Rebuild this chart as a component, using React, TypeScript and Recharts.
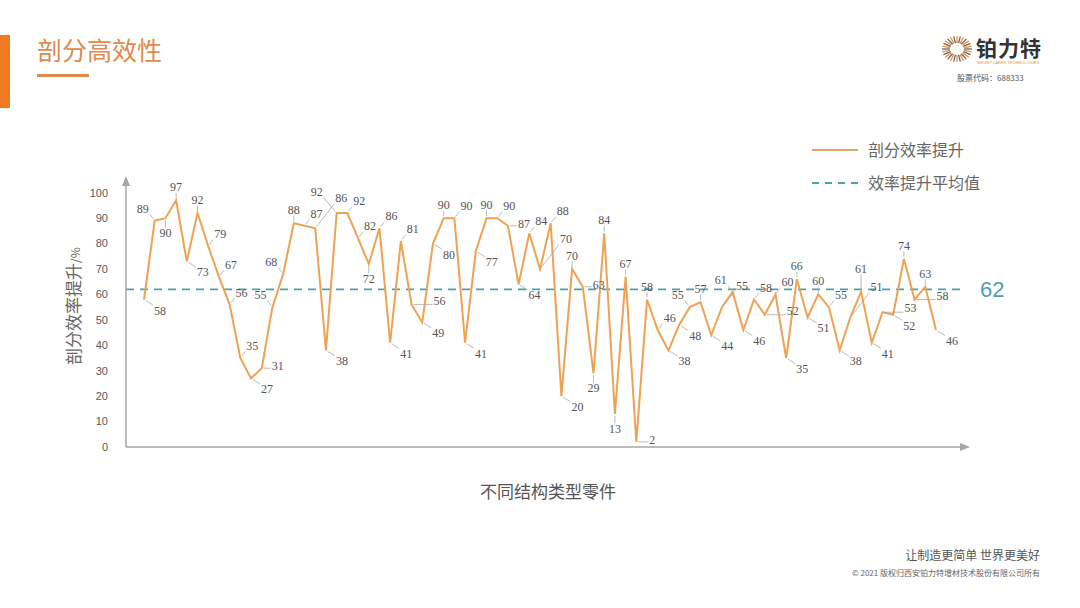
import { LineChart, Line, XAxis, YAxis, ReferenceLine, LabelList } from 'recharts'

// 剖分效率提升 — one value per part, read left to right
const effData = [
    58, 89, 90, 97, 73, 92, 79, 67, 56, 35, 27, 31, 55, 68, 88, 87, 86, 38, 92, 92,
    82, 72, 86, 41, 81, 56, 49, 80, 90, 90, 41, 77, 90, 90, 87, 64, 84, 70, 88, 20,
    70, 63, 29, 84, 13, 67, 2, 58, 46, 38, 48, 55, 57, 44, 55, 61, 46, 58, 52, 60,
    35, 66, 51, 60, 55, 38, 51, 61, 41, 53, 52, 74, 58, 63, 46,
]
const partIds = effData.map((_, i) => `part${i + 1}`)
const avgValue = 62
const yTicks = [0, 10, 20, 30, 40, 50, 60, 70, 80, 90, 100]
const yMax = 105

const seriesName = '剖分效率提升'
const avgName = '效率提升平均值'

const chartData = partIds.map((id, i) => ({ part: id, eff: effData[i] }))

const ORANGE = '#EEA254'
const TEAL = '#4E9FAE'
const CJK = '"Noto Sans CJK SC", "Noto Sans", sans-serif'

// plot frame (matches the LineChart margins / axis padding below)
const PLOT = { left: 126, right: 965, top: 180, bottom: 447, padL: 18, padR: 29 }

// --- label placement: try a few spots around each point, skip ones that hit the line or another label
type Box = { cx: number; cy: number; w: number; h: number }
const n = effData.length
const stepX = (PLOT.right - PLOT.left - PLOT.padL - PLOT.padR) / (n - 1)
const px = (i: number) => PLOT.left + PLOT.padL + i * stepX
const py = (v: number) => PLOT.bottom - (v / yMax) * (PLOT.bottom - PLOT.top)

const samples: number[][] = []
for (let i = 0; i < n - 1; i++) {
    for (let t = 0; t <= 24; t++) {
        const f = t / 24
        samples.push([px(i) + (px(i + 1) - px(i)) * f, py(effData[i]) + (py(effData[i + 1]) - py(effData[i])) * f])
    }
}

const SPOTS: Record<string, number[]> = {
    A: [0, -13], AR: [12, -12], AL: [-12, -12], R: [16, -2], L: [-16, -2],
    BR: [16, 11], B: [0, 15], BL: [-16, 11], AR2: [20, -21], AL2: [-20, -21],
    A2: [0, -23], BR2: [22, 20], BL2: [-22, 20], B2: [0, 25],
    R3: [28, -4], L3: [-28, -4], AR3: [26, -30], AL3: [-26, -30], BR3: [28, 24], BL3: [-28, 24], A3: [0, -34], B3: [0, 34],
}
const FAR = ['R3', 'L3', 'AR3', 'AL3', 'BR3', 'BL3', 'A3', 'B3']
const ORDER: Record<string, string[]> = {
    peak: ['A', 'AR', 'AL', 'A2', 'AR2', 'AL2', 'R', 'L', ...FAR],
    valley: ['BR', 'B', 'BL', 'BR2', 'B2', 'BL2', 'R', 'L', ...FAR],
    falling: ['AR', 'R', 'BL', 'AR2', 'BR', 'L', 'A', 'B', 'BL2', 'AL2', ...FAR],
    rising: ['AL', 'L', 'BR', 'AL2', 'R', 'BL', 'A', 'B', 'BR2', 'AR2', ...FAR],
}

const placed: Box[] = []
const labelOffsets = effData.map((v, i) => {
    const prev = i > 0 ? effData[i - 1] : null
    const next = i < n - 1 ? effData[i + 1] : null
    let kind = 'peak'
    if (prev === null) kind = next! > v ? 'valley' : 'peak'
    else if (next === null) kind = prev > v ? 'valley' : 'peak'
    else if (v >= prev && v >= next) kind = 'peak'
    else if (v <= prev && v <= next) kind = 'valley'
    else kind = next < v ? 'falling' : 'rising'
    const x = px(i)
    const y = py(v)
    const w = String(v).length * 6.5 + 1
    const h = 11
    let best: Box | null = null
    let bestScore = Infinity
    for (const key of ORDER[kind]) {
        const [dx, dy] = SPOTS[key]
        const b = { cx: x + dx, cy: y + dy, w, h }
        let score = 0
        for (const [sx, sy] of samples) {
            if (Math.abs(sx - b.cx) < b.w / 2 + 1 && Math.abs(sy - b.cy) < b.h / 2 + 1) score += 1
        }
        for (const o of placed) {
            if (Math.abs(o.cx - b.cx) < (o.w + b.w) / 2 + 3 && Math.abs(o.cy - b.cy) < 16) score += 100
        }
        if (b.cy > PLOT.bottom - 6) score += 50
        if (score < bestScore) {
            bestScore = score
            best = b
        }
        if (score === 0) break
    }
    placed.push(best!)
    return { dx: best!.cx - x, dy: best!.cy - y, w, h }
})

function PointLabel(props: any) {
    const { x, y, value, index } = props
    const o = labelOffsets[index]
    if (!o) return null
    const cx = x + o.dx
    const cy = y + o.dy
    const ex = Math.min(Math.max(x, cx - o.w / 2), cx + o.w / 2)
    const ey = Math.min(Math.max(y, cy - o.h / 2), cy + o.h / 2)
    const dist = Math.hypot(ex - x, ey - y)
    return (
        <g>
            {dist > 7 && (
                <line x1={x + ((ex - x) / dist) * 2} y1={y + ((ey - y) / dist) * 2} x2={ex} y2={ey}
                    stroke="#aaa" strokeWidth={0.8} />
            )}
            <text x={cx} y={cy + 4} textAnchor="middle" fontSize={12} fill="#555"
                fontFamily='"Liberation Serif", serif'>{value}</text>
        </g>
    )
}

function LegendBox() {
    return (
        <div style={{ position: 'absolute', left: 812, top: 133, width: 220, fontFamily: CJK, fontSize: 16, color: '#666', lineHeight: '33px' }}>
            <div style={{ display: 'flex', alignItems: 'center' }}>
                <svg width={56} height={10}><line x1={0} y1={5} x2={46} y2={5} stroke="#D9A868" strokeWidth={2} /></svg>
                <span>{seriesName}</span>
            </div>
            <div style={{ display: 'flex', alignItems: 'center' }}>
                <svg width={56} height={10}><line x1={0} y1={5} x2={46} y2={5} stroke={TEAL} strokeWidth={2} strokeDasharray="7 6" /></svg>
                <span>{avgName}</span>
            </div>
        </div>
    )
}

function Logo() {
    const rays = Array.from({ length: 28 }, (_, i) => i)
    return (
        <div style={{ position: 'absolute', left: 940, top: 32, width: 110 }}>
            <svg width={34} height={30} style={{ position: 'absolute', left: 0, top: 2 }}>
                {rays.map((i) => {
                    const a = (i / 28) * Math.PI * 2
                    return (
                        <line key={i} x1={17 + Math.cos(a) * 7} y1={15 + Math.sin(a) * 6}
                            x2={17 + Math.cos(a) * 15} y2={15 + Math.sin(a) * 13}
                            stroke={i % 2 ? '#E7903A' : '#666'} strokeWidth={1.3} />
                    )
                })}
            </svg>
            <div style={{ position: 'absolute', left: 36, top: 0, fontFamily: CJK, fontSize: 21, fontWeight: 700, color: '#333', letterSpacing: 1 }}>铂力特</div>
            <div style={{ position: 'absolute', left: 37, top: 28, fontFamily: 'Liberation Sans', fontSize: 4, color: '#E7903A', whiteSpace: 'nowrap' }}>BRIGHT LASER TECHNOLOGIES</div>
            <div style={{ position: 'absolute', left: 17, top: 40, fontFamily: CJK, fontSize: 8, color: '#555', whiteSpace: 'nowrap' }}>股票代码：688333</div>
        </div>
    )
}

export default function App() {
    return (
        <div style={{ position: 'absolute', left: 0, top: 0, width: 1080, height: 608, background: '#fff', overflow: 'hidden' }}>
            <div style={{ position: 'absolute', left: 0, top: 35, width: 10, height: 73, background: '#EE7A22' }} />
            <div style={{ position: 'absolute', left: 37, top: 31, fontFamily: CJK, fontSize: 25, color: '#DF8A4F' }}>剖分高效性</div>
            <div style={{ position: 'absolute', left: 37, top: 74, width: 52, height: 3, background: '#E08B4E' }} />
            <Logo />

            <div style={{ position: 'absolute', left: 0, top: 0 }}>
                <LineChart width={1080} height={608} data={chartData}
                    margin={{ top: PLOT.top, right: 1080 - PLOT.right, bottom: 608 - PLOT.bottom - 60, left: PLOT.left - 60 }}>
                    <XAxis dataKey="part" tick={false} tickLine={false} axisLine={{ stroke: '#A6A6A6', strokeWidth: 1.5 }}
                        padding={{ left: PLOT.padL, right: PLOT.padR }} height={60}
                        label={{
                            content: () => (
                                <text x={548} y={498} textAnchor="middle" fontFamily={CJK} fontSize={17} fill="#555">不同结构类型零件</text>
                            ),
                        }} />
                    <YAxis domain={[0, yMax]} ticks={yTicks} interval={0} tickLine={false} width={60}
                        axisLine={{ stroke: '#A6A6A6', strokeWidth: 1.5 }} tickMargin={12}
                        tick={{ fontSize: 11, fill: '#595959', fontFamily: 'Liberation Sans' }}
                        label={{
                            content: () => (
                                <text transform="translate(80,306) rotate(-90)" textAnchor="middle" fontFamily={CJK} fill="#666">
                                    <tspan fontSize={17}>剖分效率提升</tspan>
                                    <tspan fontSize={12}>/%</tspan>
                                </text>
                            ),
                        }} />
                    <ReferenceLine y={avgValue} stroke={TEAL} strokeWidth={1.8} strokeDasharray="8 6"
                        label={{
                            content: (p: any) => (
                                <text x={p.viewBox.x + p.viewBox.width + 15} y={p.viewBox.y + 8} fontSize={22}
                                    fill={TEAL} fontFamily="Liberation Sans">{avgValue}</text>
                            ),
                        }} />
                    <Line type="linear" dataKey="eff" name={seriesName} stroke={ORANGE} strokeWidth={2}
                        dot={false} isAnimationActive={false}>
                        <LabelList dataKey="eff" content={<PointLabel />} />
                    </Line>
                </LineChart>
            </div>
            <LegendBox />

            <svg width={1080} height={608} style={{ position: 'absolute', left: 0, top: 0, pointerEvents: 'none' }}>
                <polygon points="126,176 122,186 130,186" fill="#A6A6A6" />
                <polygon points="970,447 960,443 960,451" fill="#A6A6A6" />
            </svg>

            <div style={{ position: 'absolute', right: 40, top: 546, fontFamily: CJK, fontSize: 12, color: '#555' }}>让制造更简单 世界更美好</div>
            <div style={{ position: 'absolute', right: 40, top: 567, fontFamily: CJK, fontSize: 8, color: '#666' }}>© 2021 版权归西安铂力特增材技术股份有限公司所有</div>
        </div>
    )
}
